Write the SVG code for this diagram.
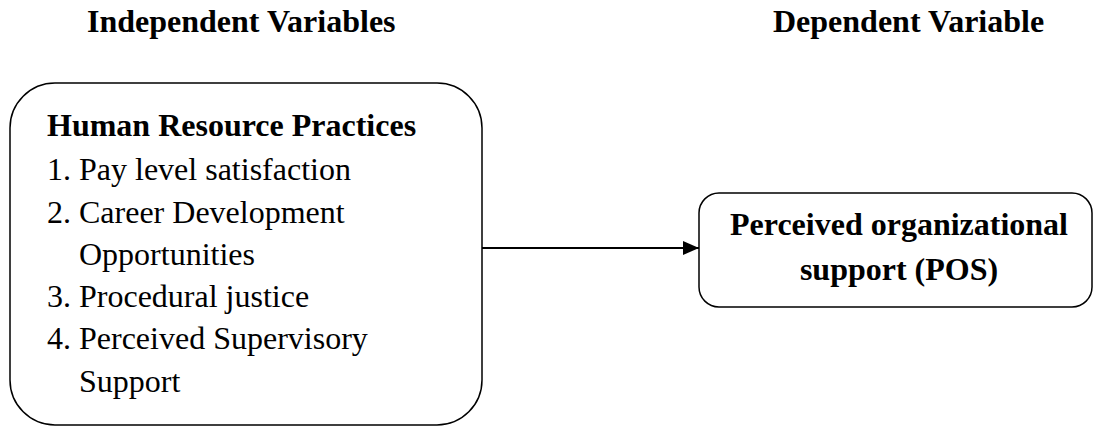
<svg xmlns="http://www.w3.org/2000/svg" width="1094" height="427" viewBox="0 0 1094 427">
<style>
.t{font-family:"Liberation Serif","Times New Roman",serif;fill:#000;font-size:32px}
.b{font-weight:bold}
.box{fill:#fff;stroke:#000;stroke-width:1.5}
</style>
<defs>
<marker id="ah" markerWidth="16" markerHeight="14" refX="16" refY="7" orient="auto" markerUnits="userSpaceOnUse">
<path d="M0,0 L16,7 L0,14 Z" fill="#000"/>
</marker>
</defs>
<rect width="1094" height="427" fill="#fff"/>
<g id="headers">
<text class="t b" x="87" y="32">Independent Variables</text>
<text class="t b" x="773" y="32">Dependent Variable</text>
</g>
<g id="hr-practices">
<rect class="box" x="10" y="83" width="472" height="342" rx="45" ry="45"/>
<text class="t b" x="47" y="136">Human Resource Practices</text>
<text class="t" x="47" y="180">1. Pay level satisfaction</text>
<text class="t" x="47" y="223">2. Career Development</text>
<text class="t" x="79" y="265">Opportunities</text>
<text class="t" x="47" y="307">3. Procedural justice</text>
<text class="t" x="47" y="349">4. Perceived Supervisory</text>
<text class="t" x="79" y="392">Support</text>
</g>
<g id="pos">
<rect class="box" x="699" y="193" width="393" height="114" rx="20" ry="20"/>
<text class="t b" x="899" y="235" text-anchor="middle">Perceived organizational</text>
<text class="t b" x="899" y="280" text-anchor="middle">support (POS)</text>
</g>
<g id="connectors">
<line x1="482" y1="248" x2="699" y2="248" stroke="#000" stroke-width="1.8" marker-end="url(#ah)"/>
</g>
</svg>
